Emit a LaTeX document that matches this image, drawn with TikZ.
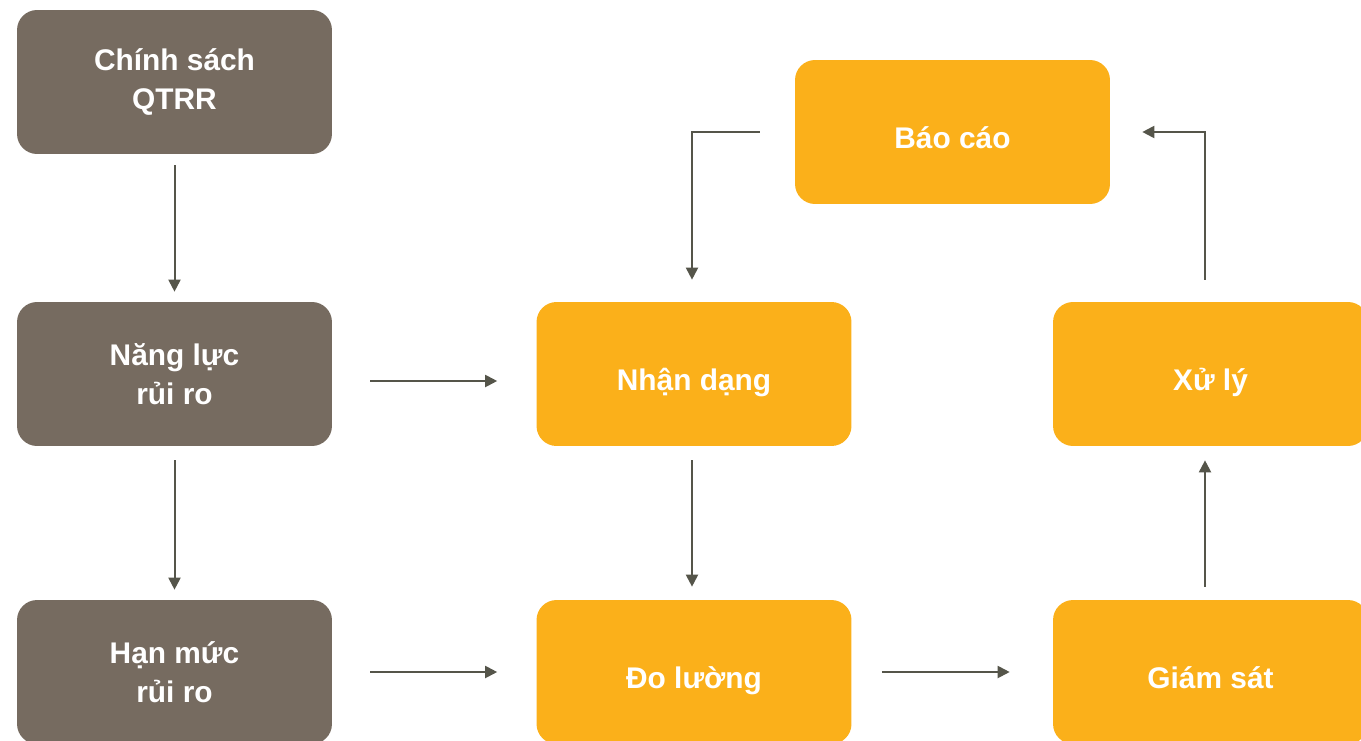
\documentclass[tikz,border=0pt]{standalone}
\usepackage{fontspec}
\setmainfont{Liberation Sans}
\usetikzlibrary{arrows.meta}

\definecolor{taupe}{HTML}{766B60}
\definecolor{amber}{HTML}{FBB01A}
\definecolor{olive}{HTML}{55554A}

\begin{document}
\begin{tikzpicture}[x=0.02cm,y=-0.02cm]
\useasboundingbox (0,0) rectangle (1361,740);
\begin{scope}[every node/.style={rectangle,rounded corners=0.4cm,minimum width=6.3cm,minimum height=2.88cm,
      align=center,text=white,font=\bfseries\fontsize{17}{22}\selectfont}]
    \node[fill=taupe] (cs) at (174.5,82) {Chính sách\\QTRR};
    \node[fill=taupe] (nl) at (174.5,374) {Năng lực\\rủi ro};
    \node[fill=taupe] (hm) at (174.5,672) {Hạn mức\\rủi ro};
\end{scope}

\begin{scope}[every node/.style={rectangle,rounded corners=0.4cm,minimum width=6.3cm,minimum height=2.88cm,
      fill=amber,text=white,text height=22pt,text depth=3pt,font=\bfseries\fontsize{17}{22}\selectfont}]
    \node (nd) at (694,374) {Nhận dạng};
    \node (dl) at (694,672) {Đo lường};
    \node (bc) at (952.5,132) {Báo cáo};
    \node (xl) at (1210.5,374) {Xử lý};
    \node (gs) at (1210.5,672) {Giám sát};
\end{scope}

\begin{scope}[>={Triangle[length=0.24cm,width=0.24cm]},
              every edge/.style={draw=olive,line width=0.04cm}]
    \path [->, shorten <=0.22cm, shorten >=0.2cm] (cs) edge (nl);
    \path [->, shorten <=0.28cm, shorten >=0.2cm] (nl) edge (hm);
    \path [->, shorten <=0.76cm, shorten >=0.78cm] ([yshift=-0.14cm]nd.west -| nl.east) edge ([yshift=-0.14cm]nd.west);
    \path [->, shorten <=0.76cm, shorten >=0.78cm] (dl.west -| hm.east) edge (dl.west);
    \path [->, shorten <=0.28cm, shorten >=0.26cm] ([xshift=-0.04cm]nd.south) edge ([xshift=-0.04cm]dl.north);
    \path [->, shorten <=0.6cm, shorten >=0.86cm] (dl.east) edge (gs.west);
    \path [->, shorten <=0.26cm, shorten >=0.28cm] ([xshift=-0.11cm]gs.north) edge ([xshift=-0.11cm]xl.south);
\end{scope}

\begin{scope}[>={Triangle[length=0.24cm,width=0.24cm]},draw=olive,line width=0.04cm]
    \draw [->, shorten <=0.7cm, shorten >=0.44cm] (bc.west) -| ([xshift=-0.04cm]nd.north);
    \draw [->, shorten <=0.44cm, shorten >=0.64cm] ([xshift=-0.11cm]xl.north) |- (bc.east);
\end{scope}
\end{tikzpicture}
\end{document}
